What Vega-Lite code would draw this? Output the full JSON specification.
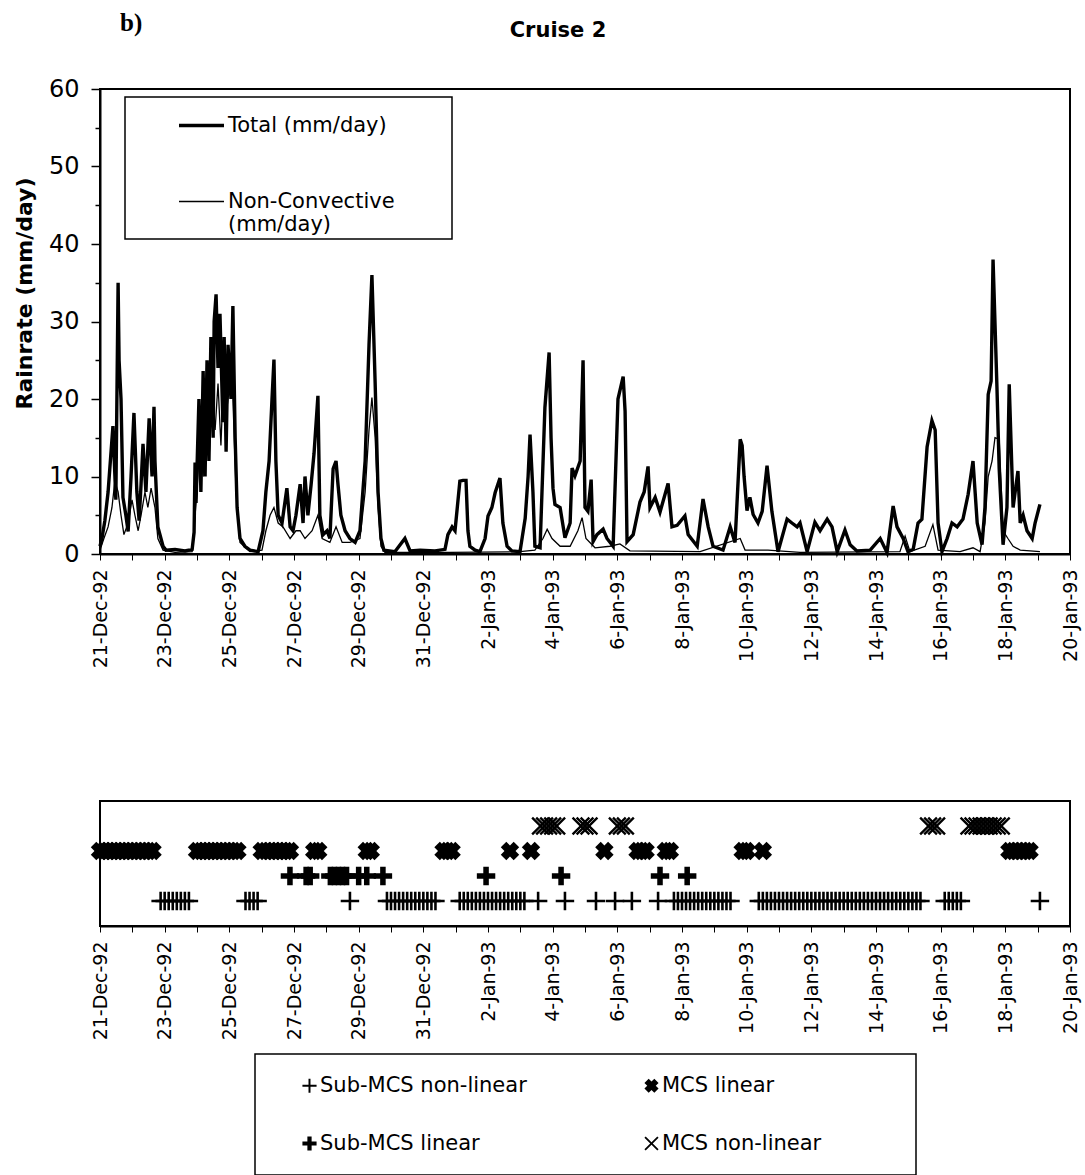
{
  "$schema": "https://vega.github.io/schema/vega-lite/v6.json",
  "background": "white",
  "padding": {"left": 12, "top": 11, "right": 5, "bottom": 0},
  "title": {"text": "b)", "anchor": "start", "frame": "group", "font": "Liberation Serif", "fontSize": 25, "fontWeight": "bold", "color": "black", "dx": 20, "dy": 21},
  "spacing": 247,
  "bounds": "flush",
  "vconcat": [
    {
      "width": 970,
      "height": 465,
      "title": {"text": "Cruise 2", "anchor": "middle", "font": "DejaVu Sans", "fontSize": 21, "fontWeight": "bold", "color": "black", "offset": 48, "dy": 12, "dx": -27},
      "data": {"values": [
        {"series":"Total","day":0,"rate":1},{"series":"Total","day":0.06,"rate":2},{"series":"Total","day":0.15,"rate":4.3},{"series":"Total","day":0.25,"rate":8},{"series":"Total","day":0.4,"rate":16.5},{"series":"Total","day":0.49,"rate":7},{"series":"Total","day":0.56,"rate":35},{"series":"Total","day":0.59,"rate":25},{"series":"Total","day":0.65,"rate":20},{"series":"Total","day":0.71,"rate":7.3},{"series":"Total","day":0.8,"rate":5},{"series":"Total","day":0.87,"rate":2.9},{"series":"Total","day":0.96,"rate":10},{"series":"Total","day":1.05,"rate":18.2},{"series":"Total","day":1.14,"rate":8},{"series":"Total","day":1.21,"rate":4.3},{"series":"Total","day":1.27,"rate":9},{"series":"Total","day":1.33,"rate":14.2},{"series":"Total","day":1.42,"rate":8},{"series":"Total","day":1.52,"rate":17.5},{"series":"Total","day":1.61,"rate":10},{"series":"Total","day":1.67,"rate":19},{"series":"Total","day":1.7,"rate":12},{"series":"Total","day":1.79,"rate":3.5},{"series":"Total","day":1.95,"rate":1},{"series":"Total","day":2.04,"rate":0.5},{"series":"Total","day":2.32,"rate":0.6},{"series":"Total","day":2.63,"rate":0.4},{"series":"Total","day":2.85,"rate":0.6},{"series":"Total","day":2.91,"rate":2.8},{"series":"Total","day":2.94,"rate":11.8},{"series":"Total","day":2.97,"rate":6.6},{"series":"Total","day":3.06,"rate":20},{"series":"Total","day":3.12,"rate":8},{"series":"Total","day":3.19,"rate":23.6},{"series":"Total","day":3.25,"rate":10},{"series":"Total","day":3.31,"rate":25},{"series":"Total","day":3.37,"rate":12},{"series":"Total","day":3.43,"rate":28},{"series":"Total","day":3.5,"rate":15},{"series":"Total","day":3.53,"rate":30},{"series":"Total","day":3.59,"rate":33.5},{"series":"Total","day":3.65,"rate":24},{"series":"Total","day":3.71,"rate":31},{"series":"Total","day":3.8,"rate":17},{"series":"Total","day":3.84,"rate":28},{"series":"Total","day":3.9,"rate":13.2},{"series":"Total","day":3.96,"rate":27},{"series":"Total","day":4.05,"rate":20},{"series":"Total","day":4.11,"rate":32},{"series":"Total","day":4.18,"rate":15},{"series":"Total","day":4.24,"rate":6},{"series":"Total","day":4.33,"rate":2},{"series":"Total","day":4.48,"rate":1},{"series":"Total","day":4.64,"rate":0.5},{"series":"Total","day":4.89,"rate":0.3},{"series":"Total","day":5.04,"rate":3},{"series":"Total","day":5.13,"rate":8},{"series":"Total","day":5.23,"rate":12},{"series":"Total","day":5.32,"rate":20},{"series":"Total","day":5.38,"rate":25.1},{"series":"Total","day":5.44,"rate":12},{"series":"Total","day":5.51,"rate":5},{"series":"Total","day":5.63,"rate":4},{"series":"Total","day":5.78,"rate":8.5},{"series":"Total","day":5.88,"rate":3.5},{"series":"Total","day":5.97,"rate":3},{"series":"Total","day":6.06,"rate":5},{"series":"Total","day":6.19,"rate":9},{"series":"Total","day":6.28,"rate":4},{"series":"Total","day":6.34,"rate":10},{"series":"Total","day":6.43,"rate":5},{"series":"Total","day":6.53,"rate":9},{"series":"Total","day":6.62,"rate":13},{"series":"Total","day":6.74,"rate":20.4},{"series":"Total","day":6.8,"rate":5},{"series":"Total","day":6.9,"rate":2.5},{"series":"Total","day":7.02,"rate":3},{"series":"Total","day":7.11,"rate":2},{"series":"Total","day":7.21,"rate":11},{"series":"Total","day":7.3,"rate":12},{"series":"Total","day":7.36,"rate":9},{"series":"Total","day":7.45,"rate":5},{"series":"Total","day":7.58,"rate":3},{"series":"Total","day":7.73,"rate":2},{"series":"Total","day":7.89,"rate":1.5},{"series":"Total","day":8.04,"rate":3},{"series":"Total","day":8.2,"rate":12},{"series":"Total","day":8.32,"rate":27},{"series":"Total","day":8.41,"rate":36},{"series":"Total","day":8.51,"rate":22},{"series":"Total","day":8.6,"rate":8},{"series":"Total","day":8.69,"rate":2},{"series":"Total","day":8.78,"rate":0.5},{"series":"Total","day":9.12,"rate":0.3},{"series":"Total","day":9.43,"rate":2},{"series":"Total","day":9.59,"rate":0.4},{"series":"Total","day":9.9,"rate":0.5},{"series":"Total","day":10.36,"rate":0.4},{"series":"Total","day":10.67,"rate":0.6},{"series":"Total","day":10.76,"rate":2.5},{"series":"Total","day":10.89,"rate":3.5},{"series":"Total","day":10.98,"rate":3},{"series":"Total","day":11.13,"rate":9.4},{"series":"Total","day":11.23,"rate":9.5},{"series":"Total","day":11.32,"rate":9.5},{"series":"Total","day":11.38,"rate":3},{"series":"Total","day":11.44,"rate":1},{"series":"Total","day":11.6,"rate":0.5},{"series":"Total","day":11.75,"rate":0.3},{"series":"Total","day":11.91,"rate":2},{"series":"Total","day":12,"rate":4.9},{"series":"Total","day":12.12,"rate":6},{"series":"Total","day":12.22,"rate":7.9},{"series":"Total","day":12.37,"rate":9.8},{"series":"Total","day":12.46,"rate":4},{"series":"Total","day":12.59,"rate":1},{"series":"Total","day":12.74,"rate":0.4},{"series":"Total","day":12.99,"rate":0.3},{"series":"Total","day":13.15,"rate":4.6},{"series":"Total","day":13.24,"rate":10},{"series":"Total","day":13.3,"rate":15.4},{"series":"Total","day":13.39,"rate":8},{"series":"Total","day":13.45,"rate":1},{"series":"Total","day":13.61,"rate":0.8},{"series":"Total","day":13.76,"rate":18.9},{"series":"Total","day":13.89,"rate":26},{"series":"Total","day":13.95,"rate":15},{"series":"Total","day":14.01,"rate":8.5},{"series":"Total","day":14.07,"rate":6.4},{"series":"Total","day":14.23,"rate":6},{"series":"Total","day":14.38,"rate":2.1},{"series":"Total","day":14.54,"rate":4},{"series":"Total","day":14.6,"rate":11.1},{"series":"Total","day":14.69,"rate":10.1},{"series":"Total","day":14.85,"rate":12},{"series":"Total","day":14.94,"rate":25},{"series":"Total","day":15,"rate":6},{"series":"Total","day":15.09,"rate":5.5},{"series":"Total","day":15.19,"rate":9.6},{"series":"Total","day":15.25,"rate":1.6},{"series":"Total","day":15.37,"rate":2.5},{"series":"Total","day":15.56,"rate":3.2},{"series":"Total","day":15.68,"rate":2},{"series":"Total","day":15.87,"rate":1},{"series":"Total","day":16.02,"rate":20},{"series":"Total","day":16.18,"rate":22.9},{"series":"Total","day":16.24,"rate":18.4},{"series":"Total","day":16.3,"rate":1.6},{"series":"Total","day":16.49,"rate":2.5},{"series":"Total","day":16.7,"rate":6.7},{"series":"Total","day":16.83,"rate":8},{"series":"Total","day":16.95,"rate":11.3},{"series":"Total","day":17.01,"rate":6},{"series":"Total","day":17.17,"rate":7.3},{"series":"Total","day":17.32,"rate":5.4},{"series":"Total","day":17.57,"rate":9.1},{"series":"Total","day":17.69,"rate":3.5},{"series":"Total","day":17.85,"rate":3.7},{"series":"Total","day":18.09,"rate":4.9},{"series":"Total","day":18.19,"rate":2.5},{"series":"Total","day":18.47,"rate":1},{"series":"Total","day":18.65,"rate":7.1},{"series":"Total","day":18.81,"rate":3.5},{"series":"Total","day":18.96,"rate":1},{"series":"Total","day":19.27,"rate":0.5},{"series":"Total","day":19.49,"rate":3.5},{"series":"Total","day":19.64,"rate":1.5},{"series":"Total","day":19.8,"rate":14.8},{"series":"Total","day":19.86,"rate":14},{"series":"Total","day":19.92,"rate":10},{"series":"Total","day":20.01,"rate":5.6},{"series":"Total","day":20.1,"rate":7.3},{"series":"Total","day":20.2,"rate":5.1},{"series":"Total","day":20.35,"rate":4},{"series":"Total","day":20.48,"rate":5.5},{"series":"Total","day":20.63,"rate":11.4},{"series":"Total","day":20.78,"rate":5.5},{"series":"Total","day":20.97,"rate":0.3},{"series":"Total","day":21.25,"rate":4.5},{"series":"Total","day":21.4,"rate":4},{"series":"Total","day":21.56,"rate":3.5},{"series":"Total","day":21.65,"rate":4},{"series":"Total","day":21.87,"rate":0.3},{"series":"Total","day":22.11,"rate":4.1},{"series":"Total","day":22.27,"rate":3},{"series":"Total","day":22.49,"rate":4.5},{"series":"Total","day":22.64,"rate":3.5},{"series":"Total","day":22.8,"rate":0.3},{"series":"Total","day":23.04,"rate":3.1},{"series":"Total","day":23.2,"rate":1.2},{"series":"Total","day":23.41,"rate":0.4},{"series":"Total","day":23.82,"rate":0.5},{"series":"Total","day":24.13,"rate":2},{"series":"Total","day":24.34,"rate":0.2},{"series":"Total","day":24.53,"rate":6.2},{"series":"Total","day":24.65,"rate":3.5},{"series":"Total","day":24.84,"rate":2},{"series":"Total","day":24.99,"rate":0.3},{"series":"Total","day":25.15,"rate":0.6},{"series":"Total","day":25.3,"rate":4},{"series":"Total","day":25.42,"rate":4.5},{"series":"Total","day":25.58,"rate":13.8},{"series":"Total","day":25.73,"rate":17.2},{"series":"Total","day":25.83,"rate":16},{"series":"Total","day":25.92,"rate":4},{"series":"Total","day":26.04,"rate":0.3},{"series":"Total","day":26.2,"rate":2},{"series":"Total","day":26.35,"rate":4},{"series":"Total","day":26.51,"rate":3.5},{"series":"Total","day":26.69,"rate":4.5},{"series":"Total","day":26.85,"rate":7.7},{"series":"Total","day":27,"rate":12},{"series":"Total","day":27.13,"rate":4},{"series":"Total","day":27.28,"rate":1.2},{"series":"Total","day":27.37,"rate":6},{"series":"Total","day":27.47,"rate":20.6},{"series":"Total","day":27.56,"rate":22.3},{"series":"Total","day":27.62,"rate":38},{"series":"Total","day":27.74,"rate":21.6},{"series":"Total","day":27.81,"rate":11},{"series":"Total","day":27.93,"rate":1.2},{"series":"Total","day":28.05,"rate":6},{"series":"Total","day":28.12,"rate":21.9},{"series":"Total","day":28.24,"rate":6},{"series":"Total","day":28.39,"rate":10.7},{"series":"Total","day":28.46,"rate":4},{"series":"Total","day":28.55,"rate":5},{"series":"Total","day":28.67,"rate":3},{"series":"Total","day":28.83,"rate":2},{"series":"Total","day":28.92,"rate":4},{"series":"Total","day":29.07,"rate":6.4},
        {"series":"Non-Convective","day":0,"rate":0.5},{"series":"Non-Convective","day":0.12,"rate":2},{"series":"Non-Convective","day":0.25,"rate":3.5},{"series":"Non-Convective","day":0.37,"rate":6},{"series":"Non-Convective","day":0.46,"rate":9.4},{"series":"Non-Convective","day":0.56,"rate":8},{"series":"Non-Convective","day":0.65,"rate":5},{"series":"Non-Convective","day":0.74,"rate":2.5},{"series":"Non-Convective","day":0.87,"rate":4},{"series":"Non-Convective","day":0.99,"rate":7},{"series":"Non-Convective","day":1.08,"rate":5},{"series":"Non-Convective","day":1.18,"rate":3},{"series":"Non-Convective","day":1.27,"rate":5},{"series":"Non-Convective","day":1.39,"rate":8},{"series":"Non-Convective","day":1.48,"rate":6},{"series":"Non-Convective","day":1.58,"rate":8.5},{"series":"Non-Convective","day":1.7,"rate":6},{"series":"Non-Convective","day":1.79,"rate":2},{"series":"Non-Convective","day":1.95,"rate":0.5},{"series":"Non-Convective","day":2.32,"rate":0.2},{"series":"Non-Convective","day":2.85,"rate":0.3},{"series":"Non-Convective","day":2.94,"rate":5},{"series":"Non-Convective","day":3,"rate":8},{"series":"Non-Convective","day":3.09,"rate":16},{"series":"Non-Convective","day":3.19,"rate":10},{"series":"Non-Convective","day":3.28,"rate":18},{"series":"Non-Convective","day":3.37,"rate":12},{"series":"Non-Convective","day":3.46,"rate":20},{"series":"Non-Convective","day":3.56,"rate":16},{"series":"Non-Convective","day":3.65,"rate":22},{"series":"Non-Convective","day":3.74,"rate":14},{"series":"Non-Convective","day":3.84,"rate":25},{"series":"Non-Convective","day":3.93,"rate":19},{"series":"Non-Convective","day":4.02,"rate":22},{"series":"Non-Convective","day":4.11,"rate":20},{"series":"Non-Convective","day":4.21,"rate":8},{"series":"Non-Convective","day":4.33,"rate":1.5},{"series":"Non-Convective","day":4.64,"rate":0.3},{"series":"Non-Convective","day":5.01,"rate":0.5},{"series":"Non-Convective","day":5.13,"rate":3},{"series":"Non-Convective","day":5.26,"rate":5},{"series":"Non-Convective","day":5.38,"rate":6},{"series":"Non-Convective","day":5.51,"rate":4},{"series":"Non-Convective","day":5.66,"rate":3.5},{"series":"Non-Convective","day":5.88,"rate":2},{"series":"Non-Convective","day":6.06,"rate":3},{"series":"Non-Convective","day":6.19,"rate":3},{"series":"Non-Convective","day":6.34,"rate":2},{"series":"Non-Convective","day":6.56,"rate":3},{"series":"Non-Convective","day":6.74,"rate":5},{"series":"Non-Convective","day":6.87,"rate":2},{"series":"Non-Convective","day":7.11,"rate":1.5},{"series":"Non-Convective","day":7.3,"rate":3.5},{"series":"Non-Convective","day":7.49,"rate":1.5},{"series":"Non-Convective","day":7.73,"rate":1.5},{"series":"Non-Convective","day":8.04,"rate":2},{"series":"Non-Convective","day":8.2,"rate":8},{"series":"Non-Convective","day":8.32,"rate":16},{"series":"Non-Convective","day":8.41,"rate":20.2},{"series":"Non-Convective","day":8.51,"rate":15},{"series":"Non-Convective","day":8.6,"rate":6},{"series":"Non-Convective","day":8.69,"rate":1},{"series":"Non-Convective","day":8.81,"rate":0.2},{"series":"Non-Convective","day":10.83,"rate":0.2},{"series":"Non-Convective","day":12.99,"rate":0.3},{"series":"Non-Convective","day":13.45,"rate":0.5},{"series":"Non-Convective","day":13.7,"rate":2},{"series":"Non-Convective","day":13.83,"rate":3.2},{"series":"Non-Convective","day":13.98,"rate":2},{"series":"Non-Convective","day":14.23,"rate":1},{"series":"Non-Convective","day":14.54,"rate":1},{"series":"Non-Convective","day":14.78,"rate":3},{"series":"Non-Convective","day":14.91,"rate":4.7},{"series":"Non-Convective","day":15.03,"rate":2},{"series":"Non-Convective","day":15.31,"rate":0.8},{"series":"Non-Convective","day":15.77,"rate":1},{"series":"Non-Convective","day":16.08,"rate":1.3},{"series":"Non-Convective","day":16.39,"rate":0.4},{"series":"Non-Convective","day":18.56,"rate":0.3},{"series":"Non-Convective","day":19.8,"rate":2},{"series":"Non-Convective","day":19.95,"rate":0.5},{"series":"Non-Convective","day":20.66,"rate":0.5},{"series":"Non-Convective","day":21.65,"rate":0.2},{"series":"Non-Convective","day":24.74,"rate":0.3},{"series":"Non-Convective","day":24.9,"rate":2.3},{"series":"Non-Convective","day":25.05,"rate":0.3},{"series":"Non-Convective","day":25.52,"rate":1},{"series":"Non-Convective","day":25.76,"rate":3.8},{"series":"Non-Convective","day":25.92,"rate":0.5},{"series":"Non-Convective","day":26.6,"rate":0.3},{"series":"Non-Convective","day":27,"rate":0.8},{"series":"Non-Convective","day":27.22,"rate":0.3},{"series":"Non-Convective","day":27.37,"rate":4},{"series":"Non-Convective","day":27.47,"rate":10},{"series":"Non-Convective","day":27.59,"rate":12},{"series":"Non-Convective","day":27.68,"rate":15},{"series":"Non-Convective","day":27.81,"rate":14.8},{"series":"Non-Convective","day":27.93,"rate":3},{"series":"Non-Convective","day":28.08,"rate":2},{"series":"Non-Convective","day":28.24,"rate":1},{"series":"Non-Convective","day":28.46,"rate":0.5},{"series":"Non-Convective","day":29.07,"rate":0.3}
      ]},
      "mark": {"type": "line", "color": "black"},
      "encoding": {
        "x": {"field": "day", "type": "quantitative", "scale": {"domain": [0, 30], "nice": false, "zero": false},
          "axis": {"title": null, "grid": false, "values": [0,1,2,3,4,5,6,7,8,9,10,11,12,13,14,15,16,17,18,19,20,21,22,23,24,25,26,27,28,29,30],
            "labelExpr": "datum.value % 2 == 0 ? timeFormat(datetime(1992, 11, 21 + datum.value), '%-d-%b-%y') : ''",
            "labelAngle": -90, "labelFontSize": 19, "labelFont": "DejaVu Sans", "labelColor": "black", "labelPadding": 9, "tickSize": 6, "tickColor": "black", "domainColor": "black", "domainWidth": 2, "labelOverlap": false, "labelBound": false, "labelFlush": false}},
        "y": {"field": "rate", "type": "quantitative", "scale": {"domain": [0, 60], "nice": false},
          "axis": {"title": "Rainrate (mm/day)", "titleFont": "DejaVu Sans", "titleFontSize": 22, "titleFontWeight": "bold", "titleColor": "black", "titlePadding": 12, "titleY": 204,
            "grid": false, "values": [0,5,10,15,20,25,30,35,40,45,50,55,60],
            "labelExpr": "datum.value % 10 == 0 ? datum.label : ''",
            "labelFont": "DejaVu Sans", "labelFontSize": 24, "labelColor": "black", "labelPadding": 12,
            "tickSize": {"condition": {"test": "datum.value % 10 == 0", "value": 9}, "value": 5}, "tickColor": "black", "tickWidth": 1.5, "domainColor": "black", "domainWidth": 2}},
        "strokeWidth": {"field": "series", "type": "ordinal", "scale": {"domain": ["Total", "Non-Convective"], "range": [3.4, 1.3]},
          "legend": {"orient": "none", "legendX": 25, "legendY": 8, "title": null, "strokeColor": "black", "padding": 4,
            "symbolType": "stroke", "symbolSize": 2025, "symbolStrokeColor": "black", "symbolOffset": 48, "labelOffset": 2,
            "labelFont": "DejaVu Sans", "labelFontSize": 21, "labelColor": "black", "labelLimit": 0, "rowPadding": 42,
            "labelExpr": "datum.label == 'Total' ? 'Total (mm/day)' : ['Non-Convective\u00a0\u00a0\u00a0\u00a0\u00a0\u00a0\u00a0\u00a0\u200b', '(mm/day)']"}},
        "detail": {"field": "series"}
      }
    },
    {
      "width": 970,
      "height": 125,
      "data": {"values": [
        {"type":"MCS linear","day":0},{"type":"MCS linear","day":0.125},{"type":"MCS linear","day":0.25},{"type":"MCS linear","day":0.375},{"type":"MCS linear","day":0.5},{"type":"MCS linear","day":0.625},{"type":"MCS linear","day":0.75},{"type":"MCS linear","day":0.875},{"type":"MCS linear","day":1},{"type":"MCS linear","day":1.125},{"type":"MCS linear","day":1.25},{"type":"MCS linear","day":1.375},{"type":"MCS linear","day":1.5},{"type":"MCS linear","day":1.625},
        {"type":"MCS linear","day":3},{"type":"MCS linear","day":3.125},{"type":"MCS linear","day":3.25},{"type":"MCS linear","day":3.375},{"type":"MCS linear","day":3.5},{"type":"MCS linear","day":3.625},{"type":"MCS linear","day":3.75},{"type":"MCS linear","day":3.875},{"type":"MCS linear","day":4},{"type":"MCS linear","day":4.125},{"type":"MCS linear","day":4.25},
        {"type":"MCS linear","day":5},{"type":"MCS linear","day":5.125},{"type":"MCS linear","day":5.25},{"type":"MCS linear","day":5.375},{"type":"MCS linear","day":5.5},{"type":"MCS linear","day":5.625},{"type":"MCS linear","day":5.75},{"type":"MCS linear","day":5.875},{"type":"MCS linear","day":6.625},{"type":"MCS linear","day":6.75},
        {"type":"MCS linear","day":8.25},{"type":"MCS linear","day":8.375},{"type":"MCS linear","day":10.625},{"type":"MCS linear","day":10.75},{"type":"MCS linear","day":10.875},{"type":"MCS linear","day":12.68},{"type":"MCS linear","day":13.33},{"type":"MCS linear","day":15.6},
        {"type":"MCS linear","day":16.625},{"type":"MCS linear","day":16.75},{"type":"MCS linear","day":16.875},{"type":"MCS linear","day":17.5},{"type":"MCS linear","day":17.625},{"type":"MCS linear","day":19.875},{"type":"MCS linear","day":20},{"type":"MCS linear","day":20.5},
        {"type":"MCS linear","day":28.125},{"type":"MCS linear","day":28.25},{"type":"MCS linear","day":28.375},{"type":"MCS linear","day":28.5},{"type":"MCS linear","day":28.625},{"type":"MCS linear","day":28.75},
        {"type":"MCS non-linear","day":13.625},{"type":"MCS non-linear","day":13.75},{"type":"MCS non-linear","day":13.875},{"type":"MCS non-linear","day":14},{"type":"MCS non-linear","day":14.125},{"type":"MCS non-linear","day":14.875},{"type":"MCS non-linear","day":15},{"type":"MCS non-linear","day":15.125},
        {"type":"MCS non-linear","day":16},{"type":"MCS non-linear","day":16.125},{"type":"MCS non-linear","day":16.25},{"type":"MCS non-linear","day":25.625},{"type":"MCS non-linear","day":25.75},{"type":"MCS non-linear","day":25.875},
        {"type":"MCS non-linear","day":26.875},{"type":"MCS non-linear","day":27},{"type":"MCS non-linear","day":27.125},{"type":"MCS non-linear","day":27.25},{"type":"MCS non-linear","day":27.375},{"type":"MCS non-linear","day":27.5},{"type":"MCS non-linear","day":27.625},{"type":"MCS non-linear","day":27.75},{"type":"MCS non-linear","day":27.875},
        {"type":"Sub-MCS linear","day":5.875},{"type":"Sub-MCS linear","day":6.375},{"type":"Sub-MCS linear","day":6.5},{"type":"Sub-MCS linear","day":7.125},{"type":"Sub-MCS linear","day":7.25},{"type":"Sub-MCS linear","day":7.375},{"type":"Sub-MCS linear","day":7.5},{"type":"Sub-MCS linear","day":7.625},{"type":"Sub-MCS linear","day":8},{"type":"Sub-MCS linear","day":8.25},{"type":"Sub-MCS linear","day":8.75},
        {"type":"Sub-MCS linear","day":11.94},{"type":"Sub-MCS linear","day":14.26},{"type":"Sub-MCS linear","day":17.32},{"type":"Sub-MCS linear","day":18.16},
        {"type":"Sub-MCS non-linear","day":1.875},{"type":"Sub-MCS non-linear","day":2},{"type":"Sub-MCS non-linear","day":2.125},{"type":"Sub-MCS non-linear","day":2.25},{"type":"Sub-MCS non-linear","day":2.375},{"type":"Sub-MCS non-linear","day":2.5},{"type":"Sub-MCS non-linear","day":2.625},{"type":"Sub-MCS non-linear","day":2.75},
        {"type":"Sub-MCS non-linear","day":4.5},{"type":"Sub-MCS non-linear","day":4.625},{"type":"Sub-MCS non-linear","day":4.75},{"type":"Sub-MCS non-linear","day":4.875},{"type":"Sub-MCS non-linear","day":7.73},
        {"type":"Sub-MCS non-linear","day":8.875},{"type":"Sub-MCS non-linear","day":9},{"type":"Sub-MCS non-linear","day":9.125},{"type":"Sub-MCS non-linear","day":9.25},{"type":"Sub-MCS non-linear","day":9.375},{"type":"Sub-MCS non-linear","day":9.5},{"type":"Sub-MCS non-linear","day":9.625},{"type":"Sub-MCS non-linear","day":9.75},{"type":"Sub-MCS non-linear","day":9.875},{"type":"Sub-MCS non-linear","day":10},{"type":"Sub-MCS non-linear","day":10.125},{"type":"Sub-MCS non-linear","day":10.25},{"type":"Sub-MCS non-linear","day":10.375},
        {"type":"Sub-MCS non-linear","day":11.125},{"type":"Sub-MCS non-linear","day":11.25},{"type":"Sub-MCS non-linear","day":11.375},{"type":"Sub-MCS non-linear","day":11.5},{"type":"Sub-MCS non-linear","day":11.625},{"type":"Sub-MCS non-linear","day":11.75},{"type":"Sub-MCS non-linear","day":11.875},{"type":"Sub-MCS non-linear","day":12},{"type":"Sub-MCS non-linear","day":12.125},{"type":"Sub-MCS non-linear","day":12.25},{"type":"Sub-MCS non-linear","day":12.375},{"type":"Sub-MCS non-linear","day":12.5},{"type":"Sub-MCS non-linear","day":12.625},{"type":"Sub-MCS non-linear","day":12.75},{"type":"Sub-MCS non-linear","day":12.875},{"type":"Sub-MCS non-linear","day":13},{"type":"Sub-MCS non-linear","day":13.125},
        {"type":"Sub-MCS non-linear","day":13.55},{"type":"Sub-MCS non-linear","day":14.38},{"type":"Sub-MCS non-linear","day":15.34},{"type":"Sub-MCS non-linear","day":15.93},{"type":"Sub-MCS non-linear","day":16.45},{"type":"Sub-MCS non-linear","day":17.26},
        {"type":"Sub-MCS non-linear","day":17.75},{"type":"Sub-MCS non-linear","day":17.875},{"type":"Sub-MCS non-linear","day":18},{"type":"Sub-MCS non-linear","day":18.125},{"type":"Sub-MCS non-linear","day":18.25},{"type":"Sub-MCS non-linear","day":18.375},{"type":"Sub-MCS non-linear","day":18.5},{"type":"Sub-MCS non-linear","day":18.625},{"type":"Sub-MCS non-linear","day":18.75},{"type":"Sub-MCS non-linear","day":18.875},{"type":"Sub-MCS non-linear","day":19},{"type":"Sub-MCS non-linear","day":19.125},{"type":"Sub-MCS non-linear","day":19.25},{"type":"Sub-MCS non-linear","day":19.375},{"type":"Sub-MCS non-linear","day":19.5},
        {"type":"Sub-MCS non-linear","day":20.375},{"type":"Sub-MCS non-linear","day":20.5},{"type":"Sub-MCS non-linear","day":20.625},{"type":"Sub-MCS non-linear","day":20.75},{"type":"Sub-MCS non-linear","day":20.875},{"type":"Sub-MCS non-linear","day":21},{"type":"Sub-MCS non-linear","day":21.125},{"type":"Sub-MCS non-linear","day":21.25},{"type":"Sub-MCS non-linear","day":21.375},{"type":"Sub-MCS non-linear","day":21.5},{"type":"Sub-MCS non-linear","day":21.625},{"type":"Sub-MCS non-linear","day":21.75},{"type":"Sub-MCS non-linear","day":21.875},{"type":"Sub-MCS non-linear","day":22},{"type":"Sub-MCS non-linear","day":22.125},{"type":"Sub-MCS non-linear","day":22.25},{"type":"Sub-MCS non-linear","day":22.375},{"type":"Sub-MCS non-linear","day":22.5},{"type":"Sub-MCS non-linear","day":22.625},{"type":"Sub-MCS non-linear","day":22.75},{"type":"Sub-MCS non-linear","day":22.875},{"type":"Sub-MCS non-linear","day":23},{"type":"Sub-MCS non-linear","day":23.125},{"type":"Sub-MCS non-linear","day":23.25},{"type":"Sub-MCS non-linear","day":23.375},{"type":"Sub-MCS non-linear","day":23.5},{"type":"Sub-MCS non-linear","day":23.625},{"type":"Sub-MCS non-linear","day":23.75},{"type":"Sub-MCS non-linear","day":23.875},{"type":"Sub-MCS non-linear","day":24},{"type":"Sub-MCS non-linear","day":24.125},{"type":"Sub-MCS non-linear","day":24.25},{"type":"Sub-MCS non-linear","day":24.375},{"type":"Sub-MCS non-linear","day":24.5},{"type":"Sub-MCS non-linear","day":24.625},{"type":"Sub-MCS non-linear","day":24.75},{"type":"Sub-MCS non-linear","day":24.875},{"type":"Sub-MCS non-linear","day":25},{"type":"Sub-MCS non-linear","day":25.125},{"type":"Sub-MCS non-linear","day":25.25},{"type":"Sub-MCS non-linear","day":25.375},
        {"type":"Sub-MCS non-linear","day":26.125},{"type":"Sub-MCS non-linear","day":26.25},{"type":"Sub-MCS non-linear","day":26.375},{"type":"Sub-MCS non-linear","day":26.5},{"type":"Sub-MCS non-linear","day":26.625},{"type":"Sub-MCS non-linear","day":29.07}
      ]},
      "mark": {"type": "point", "filled": true, "color": "black", "opacity": 1, "size": 340, "strokeWidth": 0},
      "encoding": {
        "x": {"field": "day", "type": "quantitative", "scale": {"domain": [0, 30], "nice": false, "zero": false},
          "axis": {"title": null, "grid": false, "values": [0,1,2,3,4,5,6,7,8,9,10,11,12,13,14,15,16,17,18,19,20,21,22,23,24,25,26,27,28,29,30],
            "labelExpr": "datum.value % 2 == 0 ? timeFormat(datetime(1992, 11, 21 + datum.value), '%-d-%b-%y') : ''",
            "labelAngle": -90, "labelFontSize": 19, "labelFont": "DejaVu Sans", "labelColor": "black", "labelPadding": 9, "tickSize": 6, "tickColor": "black", "domainColor": "black", "domainWidth": 2, "labelOverlap": false, "labelBound": false, "labelFlush": false}},
        "y": {"field": "type", "type": "nominal", "scale": {"type": "point", "domain": ["MCS non-linear", "MCS linear", "Sub-MCS linear", "Sub-MCS non-linear"], "padding": 1}, "axis": null},
        "shape": {"field": "type", "type": "nominal",
          "scale": {"domain": ["Sub-MCS non-linear", "Sub-MCS linear", "MCS linear", "MCS non-linear"],
            "range": ["M-1,-0.14L-0.14,-0.14L-0.14,-1L0.14,-1L0.14,-0.14L1,-0.14L1,0.14L0.14,0.14L0.14,1L-0.14,1L-0.14,0.14L-1,0.14Z",
                      "M-1,-0.3L-0.3,-0.3L-0.3,-1L0.3,-1L0.3,-0.3L1,-0.3L1,0.3L0.3,0.3L0.3,1L-0.3,1L-0.3,0.3L-1,0.3Z",
                      "M-1,-0.4L-0.4,-1L0,-0.6L0.4,-1L1,-0.4L0.6,0L1,0.4L0.4,1L0,0.6L-0.4,1L-1,0.4L-0.6,0Z",
                      "M-1,-0.82L-0.82,-1L0,-0.18L0.82,-1L1,-0.82L0.18,0L1,0.82L0.82,1L0,0.18L-0.82,1L-1,0.82L-0.18,0Z"]},
          "legend": {"orient": "none", "legendX": 155, "legendY": 965, "title": null, "columns": 2, "strokeColor": "black", "padding": 21,
            "symbolSize": 200, "symbolFillColor": "black", "symbolStrokeColor": "black", "symbolStrokeWidth": 0, "symbolOffset": 23, "labelOffset": 0,
            "labelFont": "DejaVu Sans", "labelFontSize": 21, "labelColor": "black", "labelLimit": 0, "rowPadding": 36, "columnPadding": 91,
            "labelExpr": "datum.label == 'MCS non-linear' ? 'MCS non-linear\u00a0\u00a0\u00a0\u00a0\u00a0\u00a0\u00a0\u00a0\u00a0\u00a0\u00a0\u200b' : datum.label"}}
      }
    }
  ],
  "config": {
    "view": {"stroke": "black", "strokeWidth": 2},
    "legend": {"strokeWidth": 1.5}
  }
}
